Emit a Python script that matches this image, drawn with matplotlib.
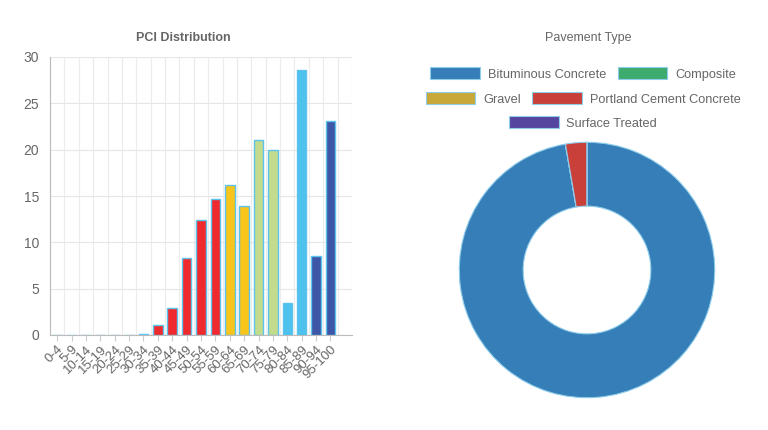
import matplotlib.pyplot as plt
import numpy as np

plt.rcParams['font.family'] = ['Liberation Sans', 'DejaVu Sans']

# Datos de la distribución PCI
rangos = ['0-4', '5-9', '10-14', '15-19', '20-24', '25-29', '30-34', '35-39',
          '40-44', '45-49', '50-54', '55-59', '60-64', '65-69', '70-74',
          '75-79', '80-84', '85-89', '90-94', '95-100']
valores = [0.05, 0.05, 0.05, 0.05, 0.05, 0.05, 0.15, 1.1, 2.9, 8.3,
           12.4, 14.7, 16.2, 13.9, 21.0, 20.0, 3.5, 28.6, 8.5, 23.1]
colores_barras = (['#4FC0EA'] * 6 + ['#3F55A5'] + ['#EE2A2E'] * 5 +
                  ['#F7C51B'] * 2 + ['#C3DB8C'] * 2 + ['#4EC1EC'] * 2 +
                  ['#3E56A6'] * 2)

# Datos del tipo de pavimento
tipos = ['Bituminous Concrete', 'Composite', 'Gravel',
         'Portland Cement Concrete', 'Surface Treated']
porcentajes = [97.3, 0, 0, 2.7, 0]
colores_pie = ['#367EB8', '#3DAA6E', '#C9A83A', '#C9403B', '#56459E']

gris = '#666666'
fig = plt.figure(figsize=(7.68, 4.3), dpi=100)

# Gráfica de barras
ax = fig.add_axes([50 / 768, 1 - 335 / 430, 302 / 768, 278 / 430])
x = np.arange(len(rangos))
ax.bar(x, valores, width=0.66, color=colores_barras, edgecolor='#5BC3EC',
       linewidth=1, zorder=3)
ax.set_xlim(-0.5, len(rangos) + 0.2)
ax.set_ylim(0, 30)
ax.set_yticks(range(0, 31, 5))
ax.set_xticks(x)
ax.set_xticklabels(rangos, rotation=45, ha='right', rotation_mode='anchor',
                   fontsize=9.5, color=gris)
ax.tick_params(axis='y', labelsize=10, colors=gris, length=0, pad=8)
ax.tick_params(axis='x', length=4, color='#cccccc', pad=2)
ax.set_xticks(np.arange(-0.5, len(rangos) + 0.6, 1), minor=True)
ax.tick_params(axis='x', which='minor', length=0)
ax.grid(True, which='minor', axis='x', color='#ececec', linewidth=0.8, zorder=0)
ax.grid(True, which='major', axis='y', color='#e6e6e6', linewidth=0.8, zorder=0)
for lado in ['top', 'right']:
    ax.spines[lado].set_visible(False)
for lado in ['left', 'bottom']:
    ax.spines[lado].set_color('#bbbbbb')
fig.text(183 / 768, 1 - 38 / 430, 'PCI Distribution', ha='center', va='center',
         fontsize=9, fontweight='bold', color=gris)

# Gráfica de dona
ax2 = fig.add_axes([(587 - 129) / 768, (430 - 270 - 129) / 430,
                    258 / 768, 258 / 430])
cunas, _ = ax2.pie(porcentajes, colors=colores_pie, startangle=90,
                   counterclock=False, radius=1,
                   wedgeprops=dict(width=0.5, edgecolor='#8FCDEB', linewidth=0.8))
ax2.set_xlim(-1.01, 1.01)
ax2.set_ylim(-1.01, 1.01)
ax2.set_aspect('equal')
fig.text(588 / 768, 1 - 38 / 430, 'Pavement Type', ha='center', va='center',
         fontsize=9, color=gris)

filas = [[0, 1], [2, 3], [4]]
alturas = [74, 99, 123]
for fila, yy in zip(filas, alturas):
    leg = fig.legend([cunas[i] for i in fila], [tipos[i] for i in fila],
                     loc='center', bbox_to_anchor=(583 / 768, 1 - yy / 430),
                     ncol=len(fila), frameon=False, fontsize=9.2,
                     handlelength=3.9, handleheight=1.0, handletextpad=0.6,
                     columnspacing=0.9, borderpad=0)
    for t in leg.get_texts():
        t.set_color(gris)
    for h in leg.legend_handles:
        h.set_edgecolor('#8FCDEB')

fig.savefig('out.png', dpi=100)
